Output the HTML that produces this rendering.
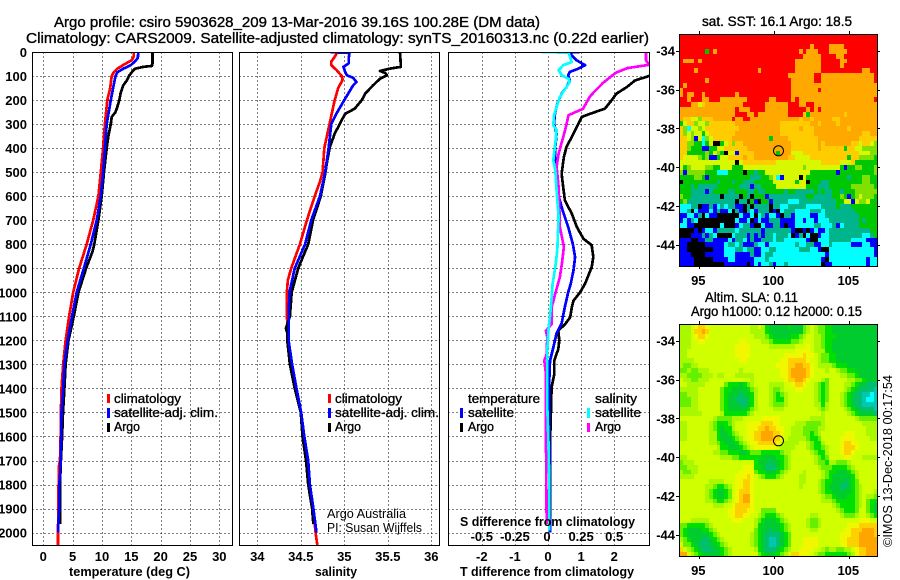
<!DOCTYPE html>
<html>
<head>
<meta charset="utf-8">
<title>Argo profile</title>
<style>
html,body{margin:0;padding:0;background:#fff;width:900px;height:580px;overflow:hidden}
svg{display:block}
text{font-family:"Liberation Sans",sans-serif;fill:#000}
.t{font-size:14.6px;stroke:#000;stroke-width:.35}
.b{font-size:13px;font-weight:bold}
.l{font-size:13px;stroke:#000;stroke-width:.35}
.n{font-size:13px;font-weight:normal}
</style>
</head>
<body>
<svg id="chart" xmlns="http://www.w3.org/2000/svg" width="900" height="580" viewBox="0 0 900 580">
<defs>
<clipPath id="clip1"><rect x="32" y="52" width="200" height="493"/></clipPath>
<clipPath id="clip2"><rect x="239" y="52" width="200" height="493"/></clipPath>
<clipPath id="clip3"><rect x="448" y="52" width="201" height="493"/></clipPath>
</defs>
<rect width="900" height="580" fill="#fff"/>
<g id="maps"></g>
<g id="grids"></g>
<g id="series"></g>
<g id="frames"></g>
<g id="labels"></g>

<text class="t" x="54" y="27" textLength="486" lengthAdjust="spacingAndGlyphs">Argo profile: csiro 5903628_209 13-Mar-2016 39.16S 100.28E (DM data)</text>
<text class="t" x="26" y="43" textLength="623" lengthAdjust="spacingAndGlyphs">Climatology: CARS2009. Satellite-adjusted climatology: synTS_20160313.nc (0.22d earlier)</text>

<text class="b" x="69" y="576" textLength="121" lengthAdjust="spacingAndGlyphs">temperature (deg C)</text>
<text class="b" x="315" y="576" textLength="42" lengthAdjust="spacingAndGlyphs">salinity</text>
<text class="b" x="460" y="576" textLength="174" lengthAdjust="spacingAndGlyphs">T difference from climatology</text>
<text class="b" x="460" y="526" textLength="175" lengthAdjust="spacingAndGlyphs">S difference from climatology</text>

<g>
<rect x="107" y="394" width="3" height="9" fill="#f00"/>
<rect x="107" y="408" width="3" height="10" fill="#00f"/>
<rect x="107" y="423" width="3" height="9" fill="#000"/>
<text class="l" x="114" y="403" textLength="67" lengthAdjust="spacingAndGlyphs">climatology</text>
<text class="l" x="114" y="417" textLength="104" lengthAdjust="spacingAndGlyphs">satellite-adj. clim.</text>
<text class="l" x="114" y="431" textLength="26" lengthAdjust="spacingAndGlyphs">Argo</text>
</g>
<g>
<rect x="328" y="394" width="3" height="9" fill="#f00"/>
<rect x="328" y="408" width="3" height="10" fill="#00f"/>
<rect x="328" y="423" width="3" height="9" fill="#000"/>
<text class="l" x="335" y="403" textLength="67" lengthAdjust="spacingAndGlyphs">climatology</text>
<text class="l" x="335" y="417" textLength="104" lengthAdjust="spacingAndGlyphs">satellite-adj. clim.</text>
<text class="l" x="335" y="431" textLength="26" lengthAdjust="spacingAndGlyphs">Argo</text>
</g>
<g>
<text class="l" x="468" y="403" textLength="72" lengthAdjust="spacingAndGlyphs">temperature</text>
<text class="l" x="468" y="417" textLength="46" lengthAdjust="spacingAndGlyphs">satellite</text>
<text class="l" x="468" y="431" textLength="26" lengthAdjust="spacingAndGlyphs">Argo</text>
<rect x="460" y="408" width="3" height="10" fill="#00f"/>
<rect x="460" y="423" width="3" height="9" fill="#000"/>
<text class="l" x="595" y="403" textLength="42" lengthAdjust="spacingAndGlyphs">salinity</text>
<text class="l" x="595" y="417" textLength="46" lengthAdjust="spacingAndGlyphs">satellite</text>
<text class="l" x="595" y="431" textLength="26" lengthAdjust="spacingAndGlyphs">Argo</text>
<rect x="587" y="408" width="3" height="10" fill="#0ff"/>
<rect x="587" y="423" width="3" height="9" fill="#f0f"/>
</g>

<text class="n" x="327" y="518" textLength="79" lengthAdjust="spacingAndGlyphs">Argo Australia</text>
<text class="n" x="327" y="532" textLength="95" lengthAdjust="spacingAndGlyphs">PI: Susan Wijffels</text>

<text class="t" x="702" y="26" textLength="150" lengthAdjust="spacingAndGlyphs" style="font-size:13.5px">sat. SST: 16.1 Argo: 18.5</text>
<text class="t" x="705" y="302" textLength="93" lengthAdjust="spacingAndGlyphs" style="font-size:13.5px">Altim. SLA: 0.11</text>
<text class="t" x="691" y="316" textLength="171" lengthAdjust="spacingAndGlyphs" style="font-size:13.5px">Argo h1000: 0.12 h2000: 0.15</text>
<text class="n" transform="translate(892,547) rotate(-90)" x="0" y="0" textLength="172" lengthAdjust="spacingAndGlyphs">©IMOS 13-Dec-2018 00:17:54</text>
</svg>

<script>
// ---- axis tick data ----
var depthTicks = [0,100,200,300,400,500,600,700,800,900,1000,1100,1200,1300,1400,1500,1600,1700,1800,1900,2000];
var tempTicks = [0,5,10,15,20,25,30];
var salTicks = ['34','34.5','35','35.5','36'];
var tDiffTicks = [-2,-1,0,1,2];
var sDiffLabels = ['-0.5','-0.25','0','0.25','0.5'];
var lonTicks = [95,100,105];
var latTicks = [-34,-36,-38,-40,-42,-44];

// ---- temperature profiles ----
var tempClimDepth = [0,20,35,50,70,85,100,150,200,300,400,500,600,700,800,900,1000,1100,1200,1300,1400,1500,1600,1700,1730,1800,2000,2052];
var tempClimValues = [15.45,15.4,15.05,13.9,12.6,12.0,11.65,11.4,10.9,10.5,10.2,9.8,9.4,8.5,7.4,6.1,5.1,4.4,3.8,3.4,3.1,3.0,2.95,2.85,2.6,2.6,2.5,2.5];
var tempSatDepth = [0,25,40,55,70,85,100,150,200,300,400,500,600,700,800,900,1000,1100,1200,1300,1400,1500,1600,1700,1770,1800,1900,1960,2000];
var tempSatValues = [16.2,16.1,15.6,14.9,13.6,12.6,12.3,11.9,11.5,10.8,10.5,10.2,9.8,9.1,8.1,6.9,5.7,4.9,4.15,3.6,3.4,3.1,3.05,2.95,2.85,2.7,2.7,2.55,2.55];
var tempArgoDepth = [0,50,58,62,70,85,100,120,140,170,200,230,250,270,300,350,400,500,600,700,800,830,900,1000,1100,1200,1300,1400,1500,1600,1700,1800,1950,1965];
var tempArgoValues = [18.6,18.6,18.5,17.05,15.6,15.05,14.6,14.2,13.6,13.2,12.95,12.6,12.3,11.65,11.5,11.1,10.8,10.35,9.95,9.4,8.7,8.4,7.3,6.0,5.2,4.3,3.8,3.6,3.35,3.2,3.0,2.85,2.9,2.9];

// ---- salinity profiles ----
var salClimDepth = [0,20,40,55,75,100,115,130,150,200,300,400,500,540,600,700,800,900,950,1000,1100,1200,1300,1400,1500,1600,1700,1800,1900,2000,2052];
var salClimValues = [34.92,34.89,34.85,34.85,34.91,34.97,34.98,34.96,34.93,34.89,34.83,34.77,34.75,34.72,34.66,34.57,34.49,34.39,34.35,34.34,34.34,34.36,34.4,34.45,34.505,34.54,34.585,34.605,34.645,34.67,34.69];
var salSatDepth = [0,4,30,48,62,83,97,107,125,140,170,200,250,300,400,500,600,700,800,900,1000,1100,1200,1300,1400,1500,1600,1700,1800,1900,2000];
var salSatValues = [34.84,35.06,35.05,35.05,34.99,35.01,35.03,35.1,35.14,35.1,35.05,35.0,34.92,34.85,34.82,34.78,34.72,34.62,34.55,34.43,34.37,34.36,34.36,34.4,34.45,34.505,34.54,34.585,34.605,34.645,34.68];
var salArgoDepth = [0,55,62,69,79,87,97,111,139,173,201,236,257,284,340,395,451,506,600,700,800,900,1000,1100,1150,1170,1200,1300,1400,1500,1600,1700,1800,1900,1965];
var salArgoValues = [35.64,35.65,35.65,35.525,35.41,35.47,35.49,35.41,35.33,35.24,35.2,35.12,35.01,34.97,34.89,34.835,34.805,34.78,34.73,34.64,34.585,34.47,34.395,34.375,34.33,34.345,34.345,34.375,34.43,34.5,34.52,34.56,34.585,34.63,34.645];

// ---- difference profiles ----
var tDiffSatDepth = [0,2,14,35,55,69,83,97,118,146,173,215,257,298,340,409,478,548,603,659,728,798,853,908,964,1000,1060,1130,1170,1230,1285,1400,1800,2000];
var tDiffSatValues = [0.95,0.66,0.72,0.87,1.12,0.92,0.66,0.61,0.66,0.56,0.41,0.28,0.21,0.18,0.26,0.21,0.23,0.26,0.33,0.44,0.61,0.75,0.82,0.77,0.69,0.61,0.51,0.41,0.26,0.16,0.06,0.03,0.05,0.06];
var tDiffArgoDepth = [100,118,146,173,201,236,257,270,305,340,395,437,506,562,617,673,728,777,804,853,895,964,1000,1035,1062,1104,1132,1160,1201,1236,1284,1340,1395,1548,1631,1964];
var tDiffArgoValues = [3.06,2.63,2.38,2.07,1.92,1.72,1.27,1.02,0.89,0.77,0.56,0.48,0.41,0.46,0.51,0.72,0.87,1.07,1.32,1.37,1.32,1.12,0.97,0.77,0.72,0.67,0.52,0.31,0.34,0.31,0.19,0.19,0.11,0.08,0.06,0.06];
var sDiffArgoDepth = [0,35,50,54,67,87,129,171,187,236,263,312,354,423,478,562,645,728,811,881,936,1005,1062,1132,1160,1187,1257,1284,1340,1617,1964];
var sDiffArgoValues = [0.74,0.74,0.76,0.755,0.6,0.51,0.415,0.34,0.315,0.265,0.155,0.135,0.115,0.08,0.065,0.08,0.085,0.09,0.12,0.105,0.09,0.055,0.028,0.028,-0.015,-0.005,-0.01,-0.028,-0.015,-0.015,-0.01];
var sDiffSatDepth = [0,3,42,55,76,97,111,125,153,187,229,264,305,326,381,451,492,576,687,825,895,964,1019,1075,1160,1243,1340,1478,1617,1755,1992];
var sDiffSatValues = [-0.048,0.155,0.18,0.115,0.08,0.105,0.155,0.165,0.13,0.09,0.065,0.045,0.04,0.065,0.055,0.04,0.055,0.065,0.08,0.07,0.055,0.035,0.028,0.02,0.003,-0.005,-0.005,-0.005,0.003,0.008,0.008];

// ---- SST map cells: one letter per 0.25 degree cell, north to south ----
var sstRows = [
"RRRRRRRRRR RRRRRRRRRR RRRRRRRRRR RRRRRRRRRR RRRRRRRRRR RRR",
"RRRRRRRRRR RRRRRRRRRR RRRRRRRRRR RRRRRRRRRR RRRRRRRRRR RRR",
"RRRRRRRRRR RRRRRRRRRR RRRRRRRRRR RRRRRORRRR OOOORRRRRR RRR",
"RRRRRRRNRO RRRRRRRRRR RRRRRRRRRR RROROOORRR OOOOORRRRR RRR",
"RRRRRRRRRR RRRRRRRRRR RRRRRRRRRR RRROOOOORR RROORRRRRR RRR",
"ROOORORRRR RRRRRRRRRR RRRRRRRRRR ROOOOOOORR RRROORRRRR RRR",
"RRRRRRRRRR RRRRRRRRRR RRRRRRRRRR ROOOOOOORR RRRORRRRRR RRR",
"RRRRORRRRR RRRRRRRRRR RORRRRRRRR ROOOOOOORR RRRRRRRRRO ORR",
"RRRRRRRRRR RRRRRRRRRR RRRRRRRRRO OOOOOORROO OOOOOOOOOO OOR",
"RRRRRRRORR RRRRRRRRRR RRRRRRRRRR OOOOOORROO OOOOOOOOOO OOR",
"RORRRRRRRR RRRRRRRRRR RRRRRRRRRR OOOOOOOOOO OOOOOOOOOO OOO",
"ORRRRRRRRR RRRRRRRRRR RRRRRRRRRR OOOOOOOROO OOOOOOOOOO OOO",
"OROORRORRR RRRRRORRRR RRRRRRRRRR OOOOOOOOOO OOOOOOOOOO OOO",
"RRORRROORR ROOOOOOORR RRRROORRRR OROOOOOOOO OOOOOOOOOO OOR",
"RRROOLAOOO OOOOOOORRR RRROOOOOOR RROORROOOO OOOOOOOOOO OOO",
"OOOOOOOOOO OOOOOROOOR RRROOOOOOR RRRROROROO OOOOOOOOOO OOO",
"OOOOOOOOOO OOOOORRROO ROOOOOOOOR RRRANOOOOO OOOOAOOOOO OOO",
"OAALLGAAAO OOOOROORRO OOOOOOOOOO OOAOOAOOOO OAAOOOOOOO OOO",
"NLAAGLLGAA AAAAAOOOOO OOOOOOOAAA AAAAAOOAOO OOAOOOOOOO OOO",
"AGCLLGLAAA AAAAAAOOOO OOOOOOOAAA AAOAAAOOOO OOOOOAOOOO OOO",
"AGLGLLNLAA AAAAAOOOOO OOOOOOOAAA AAAAAAOOOO OOOOOOOOOA AOO",
"AALGBLCGLA AAAAOOOOOO OOOONOOOOA AAAAAAAOOO OOOOOOOOAA AAA",
"AAGGNNCNLK KNLAGAAOOO OOOOOOOOOO AAAAAAAOAO OOOOOOAALA ALG",
"AAGNNNBBNN LLAAAAAAOO OOOOOOOOOO AAAAAAAOAA AAAANAALLG GGG",
"AANNNNNGNL GNKLLBAAAA OOOOOONOOO LLLAAAAAAA AAAAAAAALL LGG",
"ALLLLGNGBB NLLAAAAOAA OOOOOOOOOA ALLLLAAAAA AAAAANAAGG GGN",
"LLLLLLLLLL LLLLLKLAAA AAAAAALLLL LLLLLLLLAA AAALLLANNN NNN",
"LNGLLLLGGN NLLLNNNLLL LLLLLLLLLL LLLGLLLLLL LLLNBNNGGN NNG",
"GBGGGGGNNN CCCNNNNKNN TNNLLLLLLL LLLLLNNNNN NNBNNNNNNN NNG",
"NNNNGGNBNN NNNNNNNNNT TTNNGLCBLL LLKLNNNNNN NNNNNTNNNG GNN",
"KNNNNNNNNN TNNNTNNTTT NNNNNLLLLL LNLLKNNNTT NNNNNNNNNG GNN",
"NNNTNTTTTT NNNNNNTTTB TTNNNNLLLL LLLLNNNTTT NNNNNNGGGG GGN",
"NNNTTTTBTN NNNTTNNNTT NTTNNNNNTN NTTTTTNTNT TNNTNNNGGG GGG",
"GNNTTTTTTT TKTTTTKNTK NNNBTTTTTT TTTTNNTTTT TNNGNBNGLG GGN",
"NGTTTTTTTT TTTTTKTTKN BKNNBTTTTC CCTTTTTTTT TTNNLLBLGG LNN",
"CCCTTKBBTB CTCTTBBKTK TTTTKTTCCT TTTTCCCCTT TTNTTTNNNN NNN",
"CCTKCBBBCB TBBCKTBKTC BTTTKBKCTT TCCCCTTTCT TTTTTTTNNN NNN",
"BBCCBTKCBB KKKKKKCBBC KCTBCCBKTT BCCCCBBCCT TTTTTTTTNN NNN",
"BCBTCKKKKK KKKKKCBBCK BCBBTTTBBB BCCBCCBCCC TTTTTTTTNT NNN",
"CCBBKKKKKK KCKKKBCTTB KKCBBTTBKB BCCCCCTTCC CTBCTTTTNN NNN",
"KKKKBKBCCB TTTTTCTTTT TTBTTTTTTT BKKBKBCBBC TTTTTTTTTT TNN",
"KKKBBBTBTC KKKKCTTTBT BTBTTCTTTC KBTKCKKBCC TTTTTTTTTC CTN",
"BBBKKBBTTB BBBCBTTCBT BBTTTCTTCC CCCCBKKCCC TTTTTTCCCC BBB",
"BBKKKKKBBB BBCTTCTBBB TCCBCCCCCC CTCCTTBBCC TCCCCCBBBC CBB",
"BBKKKKKKKB BBCCCTTCTT BBCCTTCCCC CCTTTCCBKK CCCCCCCCCC CCB",
"BBBKKKKBBB BBCCCBBBBT BBCTTCCCCC CCCCCCCCCB CCCCCCCCCC CCB",
"BBBBKKKKKB BBBCCBBBBB CCCTCCCCCC CCCCCCCCBK CCCCCCCCCC BCC",
"BBBBKKKKKK KKBBBBBBKB CBCCTBCCTC CCCCCCCCKB BCCCCCCCCC BCC"
];

// ---- SLA map cells: one level per 0.25 degree cell, north to south ----
var slaRows = [
"5556788766 6666666665 5653222223 2224565443 3222222222 222",
"5556889866 6666666665 5553222222 2224565443 3222222222 222",
"5556788766 6666666666 5554322222 3345665543 3322222222 222",
"5556677666 6666667766 6655433333 4456665543 3222222222 222",
"5556666666 6666677776 6666555555 5666765543 3222222222 222",
"5566666666 6666677776 6666666666 6777765553 3222222222 222",
"5566666666 6666677776 6666666677 7778776544 3322222222 222",
"5555666666 6666667766 6666666778 8888766544 3322222222 222",
"5445566666 6666666666 6666667778 8998876555 5433322222 222",
"4454455566 6666665666 6666666778 9999876665 6654433222 222",
"5544445556 5566655555 6666666778 9999876666 6665544322 222",
"6554455566 6666666665 6666666678 8998766654 6666655443 222",
"6655555666 6643332345 6666555566 7887665434 6666554322 111",
"5555566666 6433222234 5666544566 6776665434 6666543211 110",
"4455566666 6432221223 5666543456 6666665434 6665432110 0c0",
"4445566666 6432211123 5666543356 6666665434 6665432110 cc0",
"4445566666 6432221123 5666544456 6666665535 6665432110 000",
"5555566666 6432222234 5666655566 6666666545 6666543211 110",
"5555556666 6533333345 6666666666 6666666656 6666654322 221",
"6666666665 4444555666 6677777666 6666655556 6666666544 444",
"5566666654 3334566677 7788877666 6555444456 6666666665 555",
"5566666654 3233566677 7889887766 5554444556 6666666666 555",
"5566666655 3223456677 8899988766 5554434566 6666777666 555",
"5566666655 3222345677 8899988765 5555433466 6667777666 655",
"6666666655 4322234567 7888887655 5566543356 6667887766 666",
"6666666666 5332223456 7777776555 5666543345 6667888766 666",
"6666666665 5443332234 4433333455 6666654335 6667887666 666",
"5566666666 6555443333 3322223345 6666665434 6666776665 555",
"4555666666 6666666666 3222122345 6666665443 5544456666 666",
"4455566666 6666666777 3321112345 6666666544 4333345666 666",
"5445566666 6666667777 4332223456 6665666654 3322234566 666",
"5555666666 6666677787 6543334566 6655666654 3222223566 666",
"6666666655 5566677887 6666666666 6655666543 3222123466 666",
"6666666554 3345677887 6666666666 6656666543 2221123456 666",
"6666666543 2234678887 6666666666 6666666543 3222223456 665",
"6666666543 2234678997 6666666666 6666666654 4322233456 554",
"6666666554 3345678997 6666666666 6666666655 5433333456 433",
"6666666665 5566788887 6666666666 6666666666 6543333456 432",
"6666666666 6667788877 6644446666 6666666666 6654333466 432",
"6666666666 6667788776 6543334566 6666655666 6665444566 543",
"6665555566 6666777666 5432223456 6666544566 6666666677 766",
"4433333456 6666666666 5322222345 6666544566 6666677788 888",
"4322223345 6666666666 4322122345 6666655666 6666778889 998",
"4322222234 5666666665 4321111234 6666666666 6667778899 998",
"5432221123 4566666665 4321001234 6667777666 6667788899 999",
"6443211122 3456666665 4321001234 6667777666 6667788899 999",
"8654321112 2345666666 5321112345 6677776654 5544556788 999",
"9965432222 2345666666 6432223456 8877765443 3333345788 999"
];
var sstPalette = {R:'#ff0000',O:'#ffa800',A:'#ffcc00',L:'#d8f800',G:'#80e000',N:'#00c800',T:'#00b48c',C:'#00ffff',B:'#0000ff',K:'#000000'};
var slaPalette = {'0':'#00c8b0','1':'#00c070','2':'#00cc30','3':'#00e000','4':'#66f000','5':'#aaf800','6':'#d0ff00','7':'#f0f800','8':'#ffd000','9':'#ffa500','c':'#00ffff'};
var profileLon = 100.28;
var profileLat = -39.16;

// ---- axis functions ----
var NS = 'http://www.w3.org/2000/svg';
function depthY(d){ return 52 + d * 0.2403; }
function tempX(v){ return 43.3 + v * 5.867; }
function salX(v){ return 257.3 + (v - 34) * 87; }
function tDiffX(v){ return 548 + v * 33.1; }
function sDiffX(v){ return 548 + v * 132.4; }
function lonX(l){ return 699.3 + (l - 95) * 15; }
function latY(l, top){ return top + 16.4 + (-34 - l) * 19.4; }
function mk(tag, parent){ var e = document.createElementNS(NS, tag); parent.appendChild(e); return e; }

var grids = document.getElementById('grids');
var series = document.getElementById('series');
var frames = document.getElementById('frames');
var labels = document.getElementById('labels');
var maps = document.getElementById('maps');

function gridLine(x1, y1, x2, y2){
  var l = mk('line', grids);
  
  
  l.setAttribute('x1', Math.round(x1) + .5);
  l.setAttribute('x2', Math.round(x2) + .5);
  l.setAttribute('y1', Math.round(y1) + .5);
  l.setAttribute('y2', Math.round(y2) + .5);
  l.setAttribute('stroke', '#000');
  l.setAttribute('stroke-dasharray', '1 3');
  l.setAttribute('shape-rendering', 'crispEdges');
}
function label(txt, x, y, anchor){
  var t = mk('text', labels);
  
  
  t.setAttribute('class', 'b');
  t.setAttribute('x', x);
  t.setAttribute('y', y);
  t.setAttribute('text-anchor', anchor);
  t.textContent = txt;
}
function frame(x, y, w, h){
  var r = mk('rect', frames);
  
  
  r.setAttribute('x', x + .5);
  r.setAttribute('y', y + .5);
  r.setAttribute('width', w);
  r.setAttribute('height', h);
  r.setAttribute('fill', 'none');
  r.setAttribute('stroke', '#000');
  r.setAttribute('shape-rendering', 'crispEdges');
}
function profile(name, depths, vals, xf, color, clip, width){
  var pts = [];
  for (var i = 0; i < depths.length; i++) pts.push(xf(vals[i]).toFixed(1) + ',' + depthY(depths[i]).toFixed(1));
  var p = mk('polyline', series);
  
  
  p.setAttribute('points', pts.join(' '));
  p.setAttribute('fill', 'none');
  p.setAttribute('stroke', color);
  p.setAttribute('stroke-width', width);
  p.setAttribute('stroke-linejoin', 'round');
  p.setAttribute('clip-path', 'url(#' + clip + ')');
  p.setAttribute('shape-rendering', 'crispEdges');
}

// panel grids and horizontal depth labels
var panelBounds = [[32,232],[239,439],[448,649]];
panelBounds.forEach(function(b){
  depthTicks.forEach(function(d){ gridLine(b[0], depthY(d), b[1], depthY(d)); });
});
depthTicks.forEach(function(d){ label(String(d), 27, depthY(d) + 5, 'end'); });
tempTicks.forEach(function(v){
  gridLine(tempX(v), 52, tempX(v), 545);
  label(String(v), tempX(v), 561, 'middle');
});
salTicks.forEach(function(s){
  var v = parseFloat(s);
  gridLine(salX(v), 52, salX(v), 545);
  label(s, salX(v), 561, 'middle');
});
tDiffTicks.forEach(function(v){
  gridLine(tDiffX(v), 52, tDiffX(v), 545);
  label(String(v), tDiffX(v), 561, 'middle');
});
sDiffLabels.forEach(function(s){
  label(s, sDiffX(parseFloat(s)) - (s === '0' ? 1 : 0), 541, 'middle');
});

// profile lines
profile('temperature-climatology-line', tempClimDepth, tempClimValues, tempX, '#f00', 'clip1', 2.7);
profile('temperature-argo-line', tempArgoDepth, tempArgoValues, tempX, '#000', 'clip1', 2.7);
profile('temperature-satellite-line', tempSatDepth, tempSatValues, tempX, '#00f', 'clip1', 2.7);
profile('salinity-climatology-line', salClimDepth, salClimValues, salX, '#f00', 'clip2', 2.7);
profile('salinity-argo-line', salArgoDepth, salArgoValues, salX, '#000', 'clip2', 2.7);
profile('salinity-satellite-line', salSatDepth, salSatValues, salX, '#00f', 'clip2', 2.7);
profile('t-difference-argo-line', tDiffArgoDepth, tDiffArgoValues, tDiffX, '#000', 'clip3', 2.7);
profile('t-difference-satellite-line', tDiffSatDepth, tDiffSatValues, tDiffX, '#00f', 'clip3', 2.7);
profile('s-difference-argo-line', sDiffArgoDepth, sDiffArgoValues, sDiffX, '#f0f', 'clip3', 2.7);
profile('s-difference-satellite-line', sDiffSatDepth, sDiffSatValues, sDiffX, '#0ff', 'clip3', 2.7);

frame(32, 52, 200, 493);
frame(239, 52, 200, 493);
frame(448, 52, 201, 493);

// map heatmaps
function drawMap(rows, palette, top, cellName){
  var left = 679.3, cw = 198 / 53, ch = 232.4 / 48;
  var g = mk('g', maps);
  g.setAttribute('shape-rendering', 'crispEdges');
  rows.forEach(function(row, r){
    var cells = row.replace(/ /g, '');
    for (var c = 0; c < cells.length; c++){
      var x0 = Math.round(left + c * cw), x1 = Math.round(left + (c + 1) * cw);
      var y0 = Math.round(top + r * ch), y1 = Math.round(top + (r + 1) * ch);
      var cell = mk('rect', g);
      
      
      cell.setAttribute('x', x0);
      cell.setAttribute('y', y0);
      cell.setAttribute('width', x1 - x0);
      cell.setAttribute('height', y1 - y0);
      cell.setAttribute('fill', palette[cells.charAt(c)]);
    }
  });
  frame(679, Math.round(top), 198, 232);
  lonTicks.forEach(function(l){
    [[top - 3, top], [top + 232, top + 235]].forEach(function(s){
      var t = mk('line', frames);
      
      
      t.setAttribute('x1', Math.round(lonX(l)) + .5);
      t.setAttribute('x2', Math.round(lonX(l)) + .5);
      t.setAttribute('y1', Math.round(s[0]));
      t.setAttribute('y2', Math.round(s[1]));
      t.setAttribute('stroke', '#000');
      t.setAttribute('shape-rendering', 'crispEdges');
    });
    label(String(l), lonX(l) - 1, Math.round(top) + 251, 'middle');
  });
  latTicks.forEach(function(l){
    var y = Math.round(latY(l, top)) + .5;
    [[676, 679], [877, 880]].forEach(function(s){
      var t = mk('line', frames);
      
      
      t.setAttribute('x1', s[0]);
      t.setAttribute('x2', s[1]);
      t.setAttribute('y1', y);
      t.setAttribute('y2', y);
      t.setAttribute('stroke', '#000');
      t.setAttribute('shape-rendering', 'crispEdges');
    });
    label(String(l), 675, latY(l, top) + 5, 'end');
  });
  var m = mk('circle', frames);
  
  
  m.setAttribute('cx', lonX(profileLon));
  m.setAttribute('cy', latY(profileLat, top));
  m.setAttribute('r', 5);
  m.setAttribute('fill', 'none');
  m.setAttribute('stroke', '#000');
}
drawMap(sstRows, sstPalette, 34.3, 'sst-cell');
drawMap(slaRows, slaPalette, 324.3, 'sla-cell');
</script>
</body>
</html>
